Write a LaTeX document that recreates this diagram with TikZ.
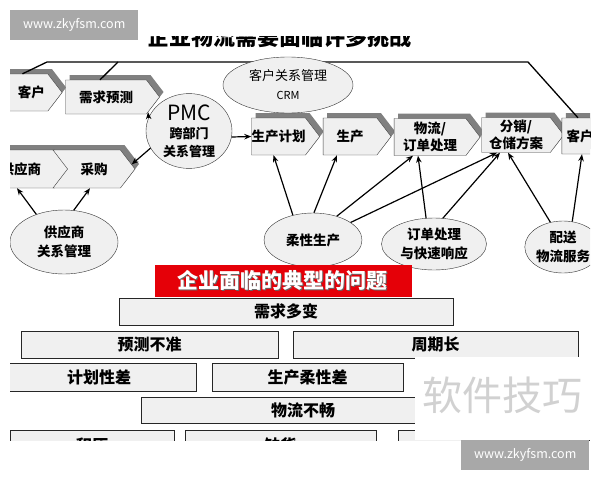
\documentclass[tikz,border=0pt]{standalone}
\usepackage{fontspec}
\setmainfont{Noto Sans CJK SC}
\usepackage{xcolor}
\usepackage{tikz}
\usetikzlibrary{shapes, shapes.geometric, shapes.symbols, shadows, arrows.meta, calc}
\definecolor{boxgray}{rgb}{0.94, 0.94, 0.94}
\definecolor{shadegray}{rgb}{0.5, 0.5, 0.5}
\definecolor{probred}{rgb}{0.9, 0.0, 0.03}
\definecolor{markgray}{rgb}{0.66, 0.66, 0.66}

\begin{document}
\begin{tikzpicture}[x=1pt, y=-1pt]
		\tikzstyle{flow}=[signal, signal to=east, signal pointer angle=105, draw=black!75, fill=boxgray, inner sep=0pt, minimum height=37pt, align=center, font=\fontsize{13.5}{17}\selectfont\bfseries, general shadow={fill=shadegray, shadow xshift=4pt, shadow yshift=5pt}]
		\tikzstyle{oval}=[ellipse, draw=black!80, fill=boxgray, inner sep=0pt, align=center, font=\fontsize{13.5}{19}\selectfont\bfseries]
		\tikzstyle{up}=[-{Stealth[length=7pt, width=5.5pt]}, line width=1.2pt]
		\tikzstyle{prob}=[draw=black!85, fill=boxgray, line width=0.9pt, inner sep=0pt, font=\fontsize{16}{18}\selectfont\bfseries]
		\tikzstyle{wmark}=[fill=markgray, text=white, inner sep=0pt, minimum width=128pt, minimum height=30pt, font=\fontsize{12.5}{14}\selectfont]
		
		\useasboundingbox (0,0) rectangle (600,480);
		\begin{scope}
		\clip (10,36) rectangle (590,440);
		\node [anchor=base, font=\fontsize{22}{24}\selectfont\bfseries](title) at (279,45) {企业物流需要面临许多挑战};
		
		%% top chain
		\coordinate (tl) at (47,62);
		\coordinate (tb) at (118,62);
		\coordinate (tr) at (528,62);
		\node [flow, minimum width=75pt](kh1) at (17.5,92.5) {};
		\node [flow, minimum width=94pt, minimum height=34pt](xq) at (106,97) {需求预测};
		\node [flow, minimum width=82pt, minimum height=38pt](gy) at (21,169) {供应商};
		\node [flow, minimum width=82pt, minimum height=38pt, signal from=west](cg) at (94,169) {采购};
		\node [flow, minimum width=67pt](jh) at (278.5,136.5) {生产计划};
		\node [flow, minimum width=68pt](sc) at (350,136.5) {生产};
		\node [flow, minimum width=86pt](wl) at (430,137) {物流/\\订单处理};
		\node [flow, minimum width=82pt, minimum height=35pt](fx) at (516,135) {分销/\\仓储方案};
		\node [flow, minimum width=70pt, minimum height=36pt](kh2) at (590,136) {客户\hspace{20pt}};
		\node [font=\fontsize{13.5}{17}\selectfont\bfseries] at (kh1) {\hspace{28pt}客户};
		\draw [line width=1.3pt] ([xshift=5pt]kh1.north) -- (tl) -- (tr) -- ([xshift=-12pt]kh2.north);
		\draw [line width=1.3pt] ([xshift=-6pt]xq.north) -- (tb);
		
		%% ovals
		\node [oval, minimum width=130pt, minimum height=56pt, font=\fontsize{13}{19}\selectfont](crm) at (288,85) {客户关系管理\\{\fontsize{11}{12}\selectfont CRM}};
		\node [oval, minimum width=86pt, minimum height=68pt, font=\fontsize{13}{18}\selectfont\bfseries](pmc) at (189,131) {{\fontsize{21}{22}\selectfont\mdseries PMC}\\跨部门\\关系管理};
		\node [oval, minimum width=108pt, minimum height=64pt](gys) at (64,242) {供应商\\关系管理};
		\node [oval, minimum width=98pt, minimum height=54pt](rx) at (313,240) {柔性生产};
		\node [oval, minimum width=105pt, minimum height=52pt](dd) at (434,244) {订单处理\\与快速响应};
		\node [oval, minimum width=76pt, minimum height=52pt](ps) at (563,247) {配送\\物流服务};
		
		\draw [up] (gys.135) -- ([xshift=-4pt]gy.south);
		\draw [up] (gys.73) -- ([xshift=-4pt]cg.south);
		\draw [up] (pmc.162) -- (xq.-20);
		\draw [up] (pmc.204) -- (cg.7);
		\draw [up] (pmc.-8) -- (jh.west);
		\draw [up] (rx.129) -- ([xshift=-5pt]jh.south);
		\draw [up] (rx.88) -- ([xshift=-13pt]sc.south);
		\draw [up] (rx.45) -- ([xshift=-17pt]wl.south);
		\draw [up] (rx.25) -- ([xshift=-19pt]fx.south);
		\draw [up] (dd.107) -- ([xshift=-12pt]wl.south);
		\draw [up] (dd.71) -- ([xshift=-16pt]fx.south);
		\draw [up] (ps.117) -- ([xshift=-8pt]fx.south);
		\draw [up] (ps.70) -- ([xshift=-8pt]kh2.south);
		
		%% problems
		\node [fill=probred, minimum width=257pt, minimum height=32pt, inner sep=0pt, font=\fontsize{21}{22}\selectfont\bfseries, text=black!60](wt) at (283.5,281) {企业面临的典型的问题};
		\node [font=\fontsize{21}{22}\selectfont\bfseries, text=white] at ([xshift=-1pt, yshift=1pt]wt.center) {企业面临的典型的问题};
		\node [prob, minimum width=334pt, minimum height=27pt](p1) at (286,311.5) {需求多变};
		\node [prob, minimum width=257pt, minimum height=27pt](p2) at (149.5,344.5) {预测不准};
		\node [prob, minimum width=285pt, minimum height=27pt](p3) at (435.5,344.5) {周期长};
		\node [prob, minimum width=194pt, minimum height=28pt](p4) at (99,377) {计划性差};
		\node [prob, minimum width=191pt, minimum height=28pt](p5) at (307.5,377) {生产柔性差};
		\node [prob, minimum width=324pt, minimum height=26pt](p6) at (303,410) {物流不畅};
		\node [prob, minimum width=164pt, minimum height=30pt](p7) at (92,445) {积压};
		\node [prob, minimum width=191pt, minimum height=30pt](p8) at (280.5,445) {缺货};
		\node [prob, minimum width=191pt, minimum height=30pt](p9) at (494,445) {};
		\end{scope}
		
		%% marks
		\fill [white] (415,357) rectangle (600,440);
		\node [text=black!18, font=\fontsize{40}{42}\selectfont] at (502,395) {软件技巧};
		\node [wmark, anchor=north west](m1) at (10,10) {www.zkyfsm.com};
		\node [wmark, anchor=north west](m2) at (461,440) {www.zkyfsm.com};
\end{tikzpicture}
\end{document}
